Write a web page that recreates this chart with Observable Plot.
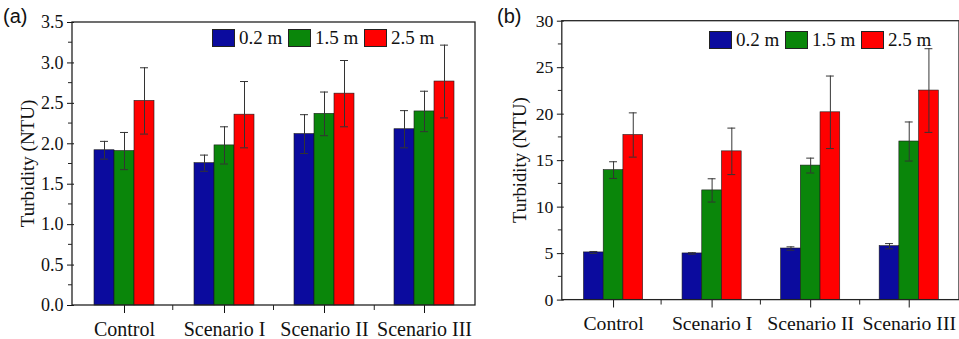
<!DOCTYPE html>
<html>
<head>
<meta charset="utf-8">
<script src="https://cdn.jsdelivr.net/npm/d3@7"></script>
<script src="https://cdn.jsdelivr.net/npm/@observablehq/plot@0.6"></script>
<style>
  html, body { margin: 0; padding: 0; background: #fff; overflow: hidden; }
  #wrap { position: relative; width: 959px; height: 339px; overflow: hidden; background: #fff; }
  .panel { position: absolute; top: 0; }
  .plab { position: absolute; font-family: "Liberation Sans", Arial, sans-serif; font-size: 20px; color: #111; }
  .legend { position: absolute; display: flex; align-items: center; font-family: "Liberation Serif", "Times New Roman", serif; font-size: 19px; color: #111; }
  .legend .sw { width: 23px; height: 18px; border: 1px solid #222; box-sizing: border-box; margin-right: 4px; }
  .legend .item { display: flex; align-items: center; width: 76px; }
</style>
</head>
<body>
<div id="wrap">
  <div id="pa" class="panel" style="left:0px"></div>
  <div id="pb" class="panel" style="left:480px"></div>
  <div class="plab" style="left:3px;top:5px">(a)</div>
  <div class="plab" style="left:497px;top:5px">(b)</div>
  <div id="lega" class="legend" style="left:212px;top:27px"></div>
  <div id="legb" class="legend" style="left:709px;top:29px"></div>
</div>
<script>
// ---- data ----
const categories = ["Control", "Scenario I", "Scenario II", "Scenario III"];
const depths = ["0.2 m", "1.5 m", "2.5 m"];
const colors = ["#0b0b9e", "#0a860a", "#ff0000"];

// Panel (a)
const meanA_02 = [1.92, 1.76, 2.12, 2.18];
const sdA_02   = [0.11, 0.10, 0.24, 0.23];
const meanA_15 = [1.91, 1.98, 2.37, 2.40];
const sdA_15   = [0.23, 0.23, 0.27, 0.25];
const meanA_25 = [2.53, 2.36, 2.62, 2.77];
const sdA_25   = [0.41, 0.41, 0.41, 0.45];
const yTicksA  = [0, 0.5, 1.0, 1.5, 2.0, 2.5, 3.0, 3.5];

// Panel (b)
const meanB_02 = [5.13, 5.02, 5.55, 5.80];
const sdB_02   = [0.10, 0.08, 0.18, 0.28];
const meanB_15 = [13.98, 11.80, 14.47, 17.06];
const sdB_15   = [0.90, 1.25, 0.80, 2.10];
const meanB_25 = [17.76, 16.00, 20.20, 22.54];
const sdB_25   = [2.38, 2.50, 3.90, 4.50];
const yTicksB  = [0, 5, 10, 15, 20, 25, 30];

const yLabel = "Turbidity (NTU)";

function rows(means, sds) {
  const out = [];
  categories.forEach((c, i) => {
    depths.forEach((d, k) => out.push({cat: c, depth: d, mean: means[k][i], sd: sds[k][i]}));
  });
  return out;
}

function makePanel(data, yTicks, fmt, opts) {
  const lo = d => d.mean - d.sd, hi = d => d.mean + d.sd;
  const plot = Plot.plot({
    width: opts.width, height: 339,
    marginLeft: opts.marginLeft, marginRight: opts.marginRight,
    marginTop: opts.marginTop, marginBottom: opts.marginBottom,
    style: {fontFamily: "'Liberation Serif', 'Times New Roman', serif", fontSize: "18px", color: "#111", background: "transparent", overflow: "visible"},
    facet: {data, x: "cat"},
    fx: {domain: categories, padding: 0, label: null, tickSize: 8, tickPadding: 8},
    x: {domain: depths, paddingInner: 0, paddingOuter: 0.98, axis: null},
    y: {domain: [yTicks[0], yTicks[yTicks.length - 1]], ticks: yTicks, tickFormat: fmt, tickSize: 7, tickPadding: 4, label: null},
    color: {domain: depths, range: colors},
    marks: [
      Plot.barY(data, {x: "depth", y: "mean", fill: "depth", stroke: "#1a1a1a", strokeWidth: 0.6}),
      Plot.ruleX(data, {x: "depth", y1: lo, y2: hi, stroke: "#333", strokeWidth: 1}),
      Plot.tickY(data, {x: "depth", y: hi, stroke: "#333", strokeWidth: 1, insetLeft: 6, insetRight: 6}),
      Plot.tickY(data, {x: "depth", y: lo, stroke: "#333", strokeWidth: 1, insetLeft: 6, insetRight: 6})
    ]
  });
  const svg = d3.select(plot);
  // category labels slightly larger
  svg.selectAll("text").filter(function () { return categories.includes(this.textContent); })
    .attr("font-size", 20);
  // frame and minor ticks from the plot's own scales
  const fx = plot.scale("fx"), y = plot.scale("y");
  const x0 = fx.range[0], x1 = fx.range[1];
  const ys = d3.scaleLinear().domain(y.domain).range(y.range);
  const g = svg.append("g").attr("stroke", "#222").attr("fill", "none");
  g.append("rect").attr("x", x0).attr("y", Math.min(...y.range)).attr("width", x1 - x0)
    .attr("height", Math.abs(y.range[0] - y.range[1])).attr("stroke-width", 1.3);
  for (let i = 0; i < yTicks.length - 1; i++) {
    const v = (yTicks[i] + yTicks[i + 1]) / 2;
    g.append("line").attr("x1", x0 - 4).attr("x2", x0).attr("y1", ys(v)).attr("y2", ys(v));
  }
  const step = (x1 - x0) / categories.length;
  for (let i = 1; i < categories.length; i++) {
    const xv = x0 + step * i;
    g.append("line").attr("x1", xv).attr("x2", xv).attr("y1", Math.max(...y.range)).attr("y2", Math.max(...y.range) + 5);
  }
  // y axis title
  const yc = (y.range[0] + y.range[1]) / 2;
  svg.append("text").text(yLabel)
    .attr("transform", `translate(${opts.labelX},${yc}) rotate(-90)`)
    .attr("text-anchor", "middle").attr("dy", "0.35em")
    .attr("font-size", 19).attr("fill", "#111");
  return plot;
}

const dataA = rows([meanA_02, meanA_15, meanA_25], [sdA_02, sdA_15, sdA_25]);
const dataB = rows([meanB_02, meanB_15, meanB_25], [sdB_02, sdB_15, sdB_25]);

document.getElementById("pa").appendChild(makePanel(dataA, yTicksA, d => d.toFixed(1),
  {width: 480, marginLeft: 72, marginRight: 5, marginTop: 22, marginBottom: 34, labelX: 27}));
document.getElementById("pb").appendChild(makePanel(dataB, yTicksB, d => String(d),
  {width: 486, marginLeft: 83, marginRight: 0, marginTop: 21, marginBottom: 35, labelX: 40}));

function legend(id) {
  const el = document.getElementById(id);
  depths.forEach((d, k) => {
    const item = document.createElement("div");
    item.className = "item";
    const sw = document.createElement("div");
    sw.className = "sw"; sw.style.background = colors[k];
    const t = document.createElement("span"); t.textContent = d;
    item.appendChild(sw); item.appendChild(t);
    el.appendChild(item);
  });
}
legend("lega"); legend("legb");
</script>
</body>
</html>
